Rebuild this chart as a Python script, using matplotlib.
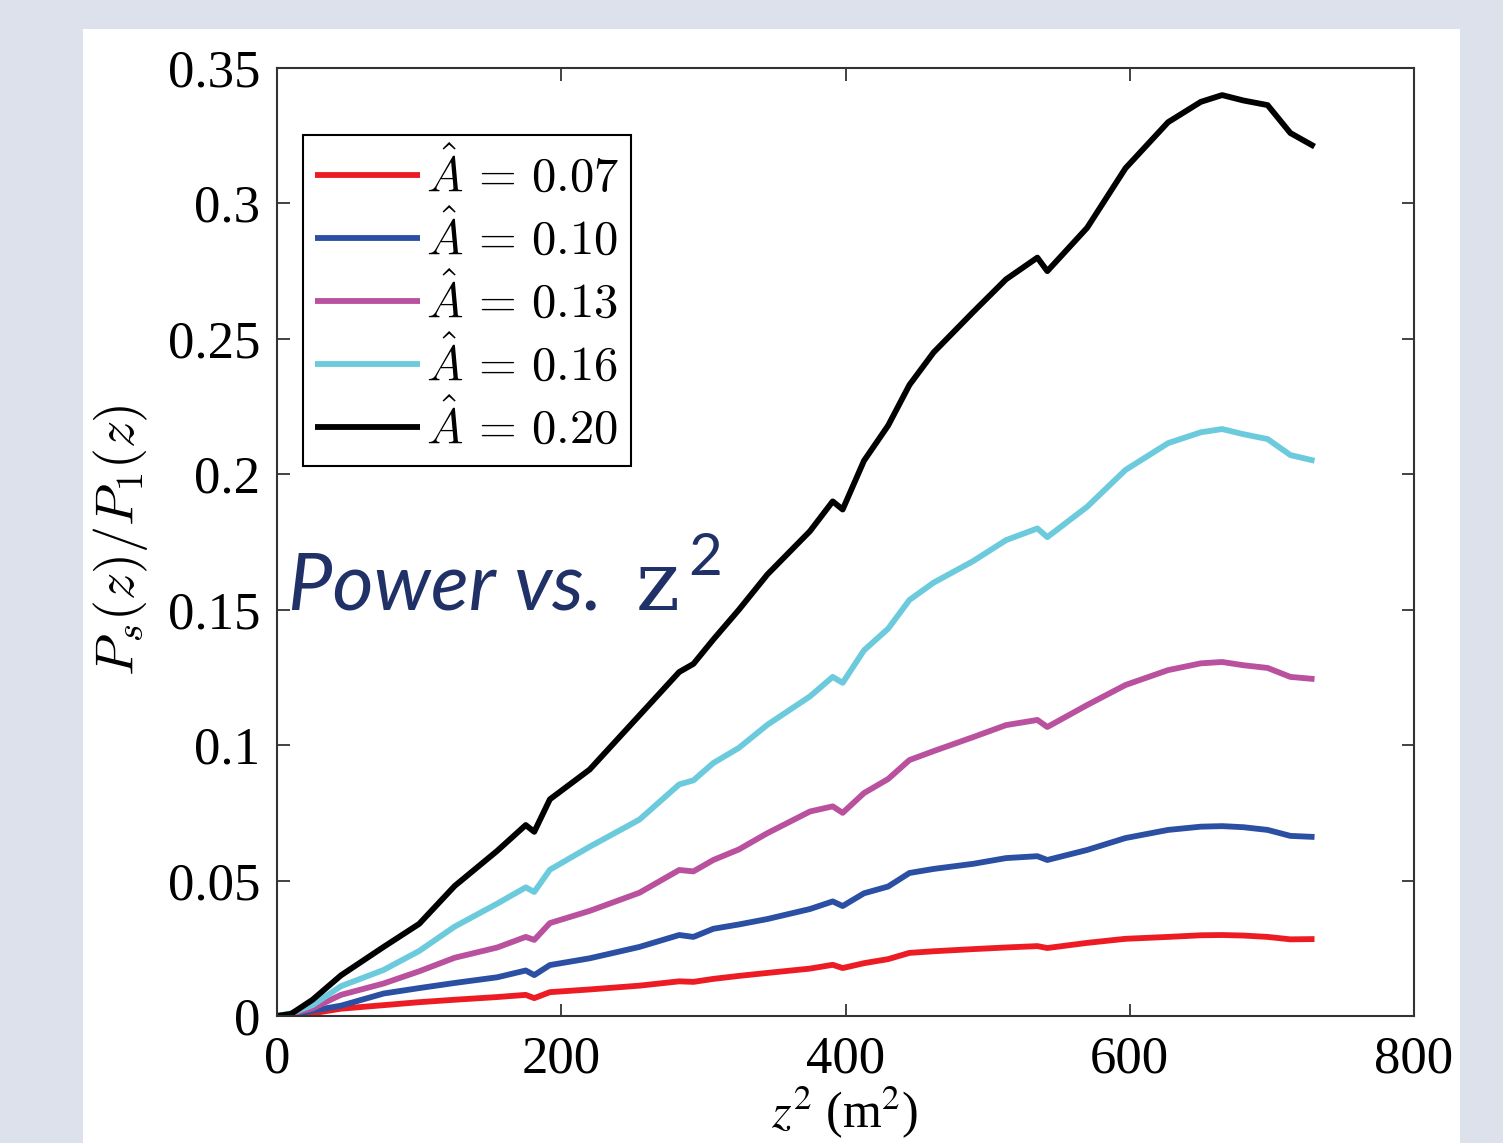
import matplotlib
matplotlib.use("Agg")
import matplotlib.pyplot as plt
from matplotlib.patches import Rectangle

# z^2 (m^2) sample positions
z2 = [0, 10, 25, 45, 75, 100, 125, 155, 175, 181, 192, 220, 255, 283, 293, 307,
      325, 345, 375, 391, 398, 413, 430, 445, 462, 490, 513, 535, 542, 570, 597,
      627, 650, 665, 680, 697, 713, 730]

# Ps(z)/P1(z) for each amplitude
p_007 = [0, 0.0003, 0.001, 0.0027, 0.004, 0.0051, 0.006, 0.007, 0.0078, 0.0066,
         0.0088, 0.0098, 0.0112, 0.0128, 0.0126, 0.0137, 0.0148, 0.0159, 0.0175,
         0.0189, 0.0177, 0.0195, 0.021, 0.0233, 0.0239, 0.0247, 0.0253, 0.0258,
         0.0251, 0.027, 0.0285, 0.0292, 0.0298, 0.0299, 0.0297, 0.0292, 0.0283, 0.0284]
p_010 = [0, 0.0006, 0.002, 0.0038, 0.0083, 0.0103, 0.0122, 0.0143, 0.0168, 0.0151,
         0.0188, 0.0213, 0.0255, 0.0299, 0.0292, 0.0322, 0.0338, 0.0358, 0.0395,
         0.0423, 0.0406, 0.0453, 0.0478, 0.0528, 0.0543, 0.0562, 0.0583, 0.059,
         0.0576, 0.0613, 0.0657, 0.0687, 0.0699, 0.0701, 0.0697, 0.0687, 0.0665, 0.0661]
p_013 = [0, 0.0008, 0.0028, 0.0078, 0.012, 0.0165, 0.0215, 0.0253, 0.0292, 0.0281,
         0.0343, 0.0388, 0.0455, 0.0539, 0.0534, 0.0576, 0.0615, 0.0675, 0.0755,
         0.0774, 0.075, 0.0823, 0.0875, 0.0945, 0.0978, 0.103, 0.1074, 0.1093,
         0.1067, 0.1148, 0.1222, 0.1277, 0.1302, 0.1307, 0.1295, 0.1285, 0.1252, 0.1244]
p_016 = [0, 0.001, 0.004, 0.011, 0.017, 0.024, 0.033, 0.0415, 0.0475, 0.0458,
         0.054, 0.0625, 0.0725, 0.0855, 0.087, 0.0934, 0.099, 0.1075, 0.118,
         0.1252, 0.123, 0.135, 0.143, 0.1536, 0.16, 0.168, 0.1757, 0.18,
         0.1768, 0.188, 0.2016, 0.2115, 0.2155, 0.2167, 0.2148, 0.213, 0.2071, 0.205]
p_020 = [0, 0.0008, 0.006, 0.015, 0.0255, 0.034, 0.048, 0.061, 0.0705, 0.068,
         0.08, 0.091, 0.111, 0.127, 0.13, 0.139, 0.15, 0.163, 0.179,
         0.19, 0.187, 0.205, 0.218, 0.233, 0.245, 0.26, 0.272, 0.28,
         0.275, 0.291, 0.313, 0.33, 0.3375, 0.34, 0.338, 0.3363, 0.326, 0.321]

labels = ["0.07", "0.10", "0.13", "0.16", "0.20"]
colors = ["#ed1c24", "#2a4fa3", "#b9519e", "#6bcbdc", "#000000"]
series = [p_007, p_010, p_013, p_016, p_020]

plt.rcParams["font.family"] = ["Liberation Serif", "DejaVu Serif"]

fig = plt.figure(figsize=(15.03, 11.43), dpi=100)
fig.patch.set_facecolor("#dce1eb")
# white slide panel behind everything
fig.patches.append(Rectangle((83 / 1503, 0), 1377 / 1503, 1114 / 1143,
                             transform=fig.transFigure, facecolor="white",
                             edgecolor="none", zorder=-10))

ax = fig.add_axes([277 / 1503, 127 / 1143, 1137 / 1503, 948 / 1143], zorder=2)
ax.set_facecolor("white")

for vals, lab, col in zip(series, labels, colors):
    ax.plot(z2, vals, color=col, lw=4.2, solid_joinstyle="round",
            solid_capstyle="butt", label=r"$\hat{A}\,=\,%s$" % lab)

ax.set_xlim(0, 800)
ax.set_ylim(0, 0.35)
ax.set_xticks([0, 200, 400, 600, 800])
ax.set_yticks([0, 0.05, 0.1, 0.15, 0.2, 0.25, 0.3, 0.35])
ax.set_yticklabels(["0", "0.05", "0.1", "0.15", "0.2", "0.25", "0.3", "0.35"])
ax.tick_params(direction="in", length=9, width=1.2, top=True, right=True,
               labelsize=38, color="#222222")
ax.tick_params(axis="x", pad=14)
ax.tick_params(axis="y", pad=12)
for sp in ax.spines.values():
    sp.set_linewidth(1.5)
    sp.set_color("#333333")

ax.set_ylabel(r"$P_s(z)/P_1(z)$", fontsize=39, math_fontfamily="cm")
ax.yaxis.set_label_coords(-0.112, 0.502)

fig.text(845 / 1503, 2 / 1143, r"$z^2$ (m$^2$)", fontsize=36, ha="center",
         va="bottom", math_fontfamily="stix", zorder=3)

leg = ax.legend(loc="upper left", bbox_to_anchor=(0.0229, 0.929),
                borderaxespad=0, fancybox=False, edgecolor="black",
                prop={"size": 35}, handlelength=2.15, handletextpad=0.12,
                labelspacing=0.18, borderpad=0.25, framealpha=1)
leg.get_frame().set_linewidth(1.5)
for t in leg.get_texts():
    t.set_math_fontfamily("cm")

# slide annotation
fig.text(288 / 1503, 1 - 610 / 1143, "Power vs.", fontsize=57,
         color="#1f3167", family="Lato", style="italic", va="baseline", zorder=5)
fig.text(636 / 1503, 1 - 610 / 1143, "z", fontsize=60, color="#1f3167",
         family="DejaVu Serif", va="baseline", zorder=5)
fig.text(688 / 1503, 1 - 575 / 1143, "2", fontsize=42, color="#1f3167",
         family="Lato", va="baseline", zorder=5)

fig.savefig("out.png", dpi=100, facecolor=fig.get_facecolor())
